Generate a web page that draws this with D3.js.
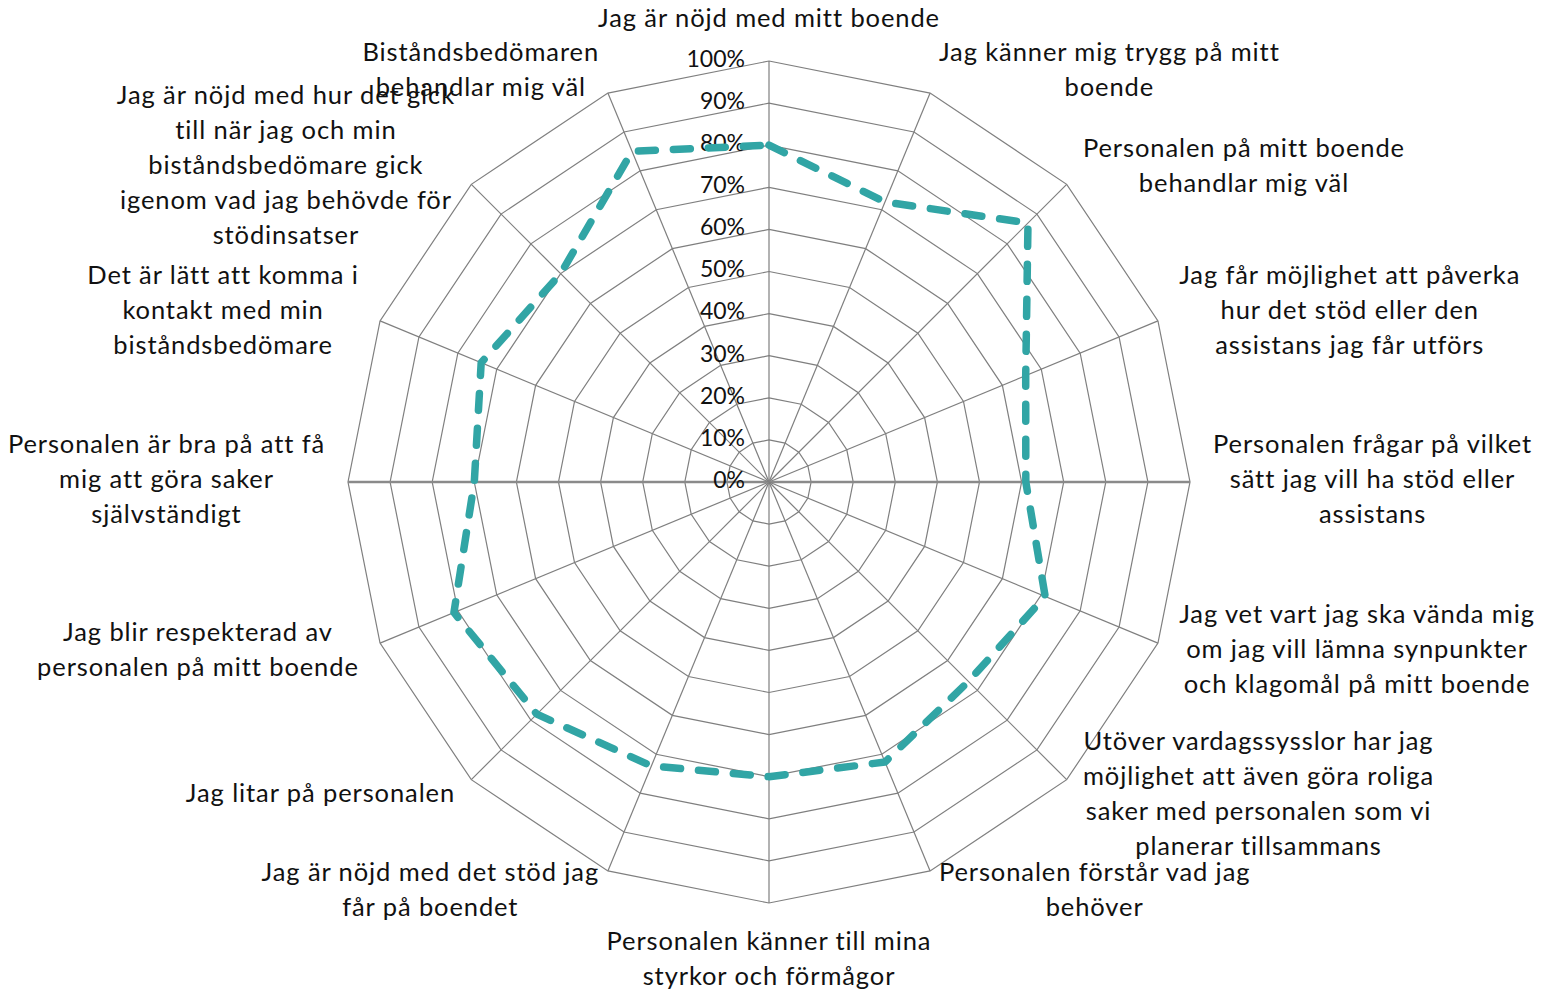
<!DOCTYPE html>
<html>
<head>
<meta charset="utf-8">
<script src="https://cdn.jsdelivr.net/npm/d3@7"></script>
<style>
  body { margin: 0; background: #fff; }
  .cat-label, .tick-label { font-family: Lato, "Open Sans", sans-serif; fill: #111; }
  .cat-label { letter-spacing: 0.9px; }
</style>
</head>
<body>
<div class="radar-chart"></div>
<script>
// categories, clockwise from the top, already wrapped like the original
const categories = [
  ['Jag är nöjd med mitt boende'],
  ['Jag känner mig trygg på mitt', 'boende'],
  ['Personalen på mitt boende', 'behandlar mig väl'],
  ['Jag får möjlighet att påverka', 'hur det stöd eller den', 'assistans jag får utförs'],
  ['Personalen frågar på vilket', 'sätt jag vill ha stöd eller', 'assistans'],
  ['Jag vet vart jag ska vända mig', 'om jag vill lämna synpunkter', 'och klagomål på mitt boende'],
  ['Utöver vardagssysslor har jag', 'möjlighet att även göra roliga', 'saker med personalen som vi', 'planerar tillsammans'],
  ['Personalen förstår vad jag', 'behöver'],
  ['Personalen känner till mina', 'styrkor och förmågor'],
  ['Jag är nöjd med det stöd jag', 'får på boendet'],
  ['Jag litar på personalen'],
  ['Jag blir respekterad av', 'personalen på mitt boende'],
  ['Personalen är bra på att få', 'mig att göra saker', 'självständigt'],
  ['Det är lätt att komma i', 'kontakt med min', 'biståndsbedömare'],
  ['Jag är nöjd med hur det gick', 'till när jag och min', 'biståndsbedömare gick', 'igenom vad jag behövde för', 'stödinsatser'],
  ['Biståndsbedömaren', 'behandlar mig väl']
];

const values = [0.80, 0.72, 0.87, 0.66, 0.61, 0.71, 0.67, 0.72, 0.70, 0.73, 0.78, 0.81, 0.70, 0.74, 0.70, 0.85];

const tickValues = [0, 0.1, 0.2, 0.3, 0.4, 0.5, 0.6, 0.7, 0.8, 0.9, 1];

const width = 1542;
const height = 994;
const cx = 769;
const cy = 482;
const radius = 421;
const fontSize = 25.5;
const lineHeight = 35;

const svg = d3.select('.radar-chart')
  .append('svg')
  .attr('width', width)
  .attr('height', height);

const g = svg.append('g')
  .attr('transform', `translate(${cx},${cy})`);

const rScale = d3.scaleLinear().domain([0, 1]).range([0, radius]);
const aScale = d3.scaleLinear().domain([0, categories.length]).range([0, 2 * Math.PI]);

const px = (i, v) => Math.sin(aScale(i)) * rScale(v);
const py = (i, v) => -Math.cos(aScale(i)) * rScale(v);

// grid rings
const ring = d3.lineRadial()
  .angle((d, i) => aScale(i))
  .radius(d => rScale(d))
  .curve(d3.curveLinearClosed);

tickValues.filter(t => t > 0).forEach(t => {
  g.append('path')
    .datum(categories.map(() => t))
    .attr('d', ring)
    .attr('fill', 'none')
    .attr('stroke', '#7f7f7f')
    .attr('stroke-width', 1.2);
});

// spokes
categories.forEach((c, i) => {
  const horizontal = i === 4 || i === 12;
  g.append('line')
    .attr('x1', 0)
    .attr('y1', 0)
    .attr('x2', px(i, 1))
    .attr('y2', py(i, 1))
    .attr('stroke', horizontal ? '#8a8a8a' : '#7f7f7f')
    .attr('stroke-width', horizontal ? 2.4 : 1.2);
});

// value axis labels
tickValues.forEach(t => {
  g.append('text')
    .attr('class', 'tick-label')
    .attr('x', -24)
    .attr('y', -rScale(t))
    .attr('text-anchor', 'end')
    .attr('dominant-baseline', 'middle')
    .style('font-size', '23px')
    .text(d3.format('.0%')(t));
});

// data line
const radar = d3.lineRadial()
  .angle((d, i) => aScale(i))
  .radius(d => rScale(d))
  .curve(d3.curveLinearClosed);

g.append('path')
  .datum(values)
  .attr('d', radar)
  .attr('fill', 'none')
  .attr('stroke', '#31a5a5')
  .attr('stroke-width', 7.5)
  .attr('stroke-linecap', 'round')
  .attr('stroke-linejoin', 'round')
  .attr('stroke-dasharray', '17,18');

// category labels
categories.forEach((lines, i) => {
  const a = aScale(i);
  const s = Math.sin(a);
  const c = Math.cos(a);
  const ox = px(i, 1) + 23 * s;
  const oy = py(i, 1) - 23 * c;

  const t = g.append('text')
    .attr('class', 'cat-label')
    .attr('text-anchor', 'middle')
    .style('font-size', fontSize + 'px');

  lines.forEach((line, k) => {
    t.append('tspan')
      .attr('x', 0)
      .attr('y', k * lineHeight)
      .attr('dominant-baseline', 'middle')
      .text(line);
  });

  const maxW = d3.max(t.selectAll('tspan').nodes(), n => n.getComputedTextLength());
  const blockH = (lines.length - 1) * lineHeight;
  let x = ox;
  let y = oy - blockH / 2;
  if (Math.abs(s) > 0.01) {
    x += Math.sign(s) * maxW / 2;
  } else {
    y += -Math.sign(c) * (blockH / 2 + lineHeight / 2);
  }
  t.attr('transform', `translate(${x},${y})`);
});
</script>
</body>
</html>
